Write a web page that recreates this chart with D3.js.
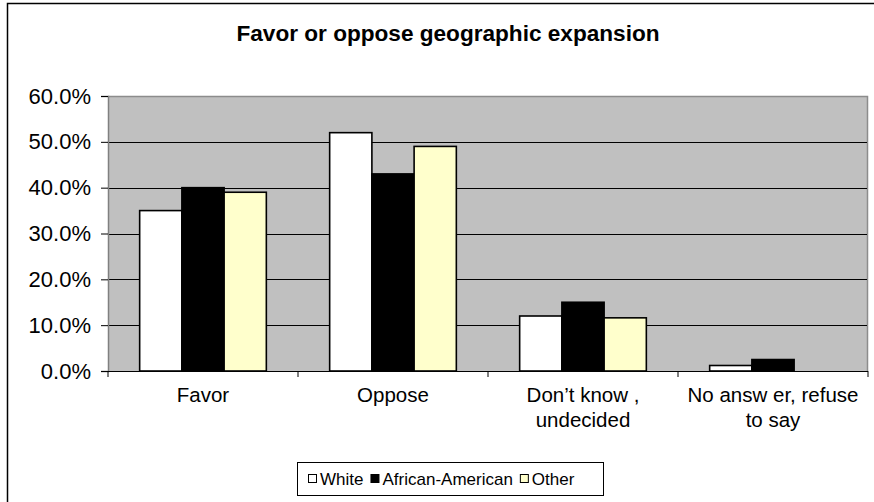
<!DOCTYPE html>
<html>
<head>
<meta charset="utf-8">
<script src="https://cdn.jsdelivr.net/npm/d3@7"></script>
<style>
  html, body { margin: 0; padding: 0; background: #ffffff; }
  svg { display: block; }
  text { font-family: "Liberation Sans", Arial, sans-serif; fill: #000; }
</style>
</head>
<body>
<svg id="chart" width="874" height="502"></svg>
<script>
const categories = ["Favor", "Oppose", "Don\u2019t know, undecided", "No answer, refuse to say"];
const categoryLines = [["Favor"], ["Oppose"], ["Don\u2019t know ,", "undecided"], ["No answ er, refuse", "to say"]];
const seriesNames = ["White", "African-American", "Other"];
const seriesColors = ["#ffffff", "#000000", "#ffffcc"];
const white = [0.35, 0.52, 0.12, 0.012];
const africanAmerican = [0.40, 0.43, 0.15, 0.025];
const other = [0.39, 0.49, 0.116, 0.0];
const yTicks = [0, 0.1, 0.2, 0.3, 0.4, 0.5, 0.6];
const titleText = "Favor or oppose geographic expansion";

const seriesValues = [white, africanAmerican, other];

const svg = d3.select("#chart");
const W = 874, H = 502;
const plot = { left: 108, right: 868, top: 96, bottom: 371 };
const FONT = "Liberation Sans, Arial, sans-serif";

svg.append("rect").attr("width", W).attr("height", H).attr("fill", "#fff");

// outer chart border (only left and top visible)
svg.append("path")
  .attr("d", `M7.5,${H + 2} L7.5,3.5 L${W + 2},3.5`)
  .attr("fill", "none").attr("stroke", "#000").attr("stroke-width", 1.5);

// title
svg.append("text")
  .attr("x", 448).attr("y", 41)
  .attr("text-anchor", "middle")
  .attr("font-size", 22.6).attr("font-weight", "bold")
  .text(titleText);

const x0 = d3.scaleBand().domain(categories).range([plot.left, plot.right]).paddingInner(0).paddingOuter(0);
const x1 = d3.scaleBand().domain(seriesNames).range([0, x0.bandwidth()]).paddingInner(0).paddingOuter(0.75);
const y = d3.scaleLinear().domain([0, 0.6]).range([plot.bottom, plot.top]);

// plot background
svg.append("rect")
  .attr("x", plot.left).attr("y", plot.top)
  .attr("width", plot.right - plot.left).attr("height", plot.bottom - plot.top)
  .attr("fill", "#c0c0c0");
// plot border top/right gray
svg.append("path")
  .attr("d", `M${plot.left},${plot.top + 0.5} L${plot.right - 0.5},${plot.top + 0.5} L${plot.right - 0.5},${plot.bottom}`)
  .attr("fill", "none").attr("stroke", "#8c8c8c").attr("stroke-width", 1.5);

// gridlines
svg.append("g").selectAll("line")
  .data(yTicks.filter(t => t > 0 && t < 0.6))
  .join("line")
  .attr("x1", plot.left).attr("x2", plot.right - 1)
  .attr("y1", d => Math.round(y(d)) + 0.5).attr("y2", d => Math.round(y(d)) + 0.5)
  .attr("stroke", "#000").attr("stroke-width", 1);

// y axis
const yAxis = d3.axisLeft(y).tickValues(yTicks).tickFormat(d3.format(".1%")).tickSize(7).tickPadding(10);
const gy = svg.append("g").attr("transform", `translate(${plot.left},0)`).call(yAxis);
gy.select(".domain").attr("stroke", "#808080").attr("stroke-width", 1.5);
gy.selectAll(".tick line").attr("stroke", "#000");
gy.selectAll(".tick text").attr("font-size", 22).attr("font-family", FONT).attr("fill", "#000");

// bars
const groups = svg.append("g").selectAll("g")
  .data(categories)
  .join("g")
  .attr("transform", d => `translate(${x0(d)},0)`);
groups.selectAll("rect")
  .data((d, i) => seriesNames.map((s, j) => ({ s, j, v: seriesValues[j][i] })).filter(e => e.v > 0))
  .join("rect")
  .attr("x", d => x1(d.s))
  .attr("width", x1.bandwidth())
  .attr("y", d => y(d.v))
  .attr("height", d => y(0) - y(d.v))
  .attr("fill", d => seriesColors[d.j])
  .attr("stroke", "#000").attr("stroke-width", 1.6);

// x axis
svg.append("line")
  .attr("x1", plot.left).attr("x2", plot.right)
  .attr("y1", plot.bottom + 0.5).attr("y2", plot.bottom + 0.5)
  .attr("stroke", "#000").attr("stroke-width", 1.2);
const xTicks = categories.map(c => x0(c)).concat([plot.right]);
svg.append("g").selectAll("line")
  .data(xTicks)
  .join("line")
  .attr("x1", d => d).attr("x2", d => d)
  .attr("y1", plot.bottom).attr("y2", plot.bottom + 6)
  .attr("stroke", "#000");

const xl = svg.append("g").selectAll("text")
  .data(categories)
  .join("text")
  .attr("x", d => x0(d) + x0.bandwidth() / 2)
  .attr("y", 402)
  .attr("text-anchor", "middle")
  .attr("font-size", 20.5);
xl.each(function(d, i) {
  const t = d3.select(this);
  categoryLines[i].forEach((ln, k) => {
    t.append("tspan").attr("x", x0(d) + x0.bandwidth() / 2).attr("dy", k === 0 ? 0 : 25).text(ln);
  });
});

// legend
const legend = svg.append("g");
const box = legend.append("rect")
  .attr("y", 462.5).attr("height", 33)
  .attr("fill", "#fff").attr("stroke", "#000").attr("stroke-width", 1);
let cx = 308;
seriesNames.forEach((s, j) => {
  legend.append("rect")
    .attr("x", cx + 0.5).attr("y", 474.5).attr("width", 8).attr("height", 8)
    .attr("fill", seriesColors[j]).attr("stroke", "#000").attr("stroke-width", 1);
  const t = legend.append("text")
    .attr("x", cx + 12).attr("y", 485)
    .attr("font-size", 17)
    .text(s);
  cx += 12 + t.node().getComputedTextLength() + 7;
});
box.attr("x", 297.5).attr("width", Math.max(306, cx - 297 + 4));
</script>
</body>
</html>
